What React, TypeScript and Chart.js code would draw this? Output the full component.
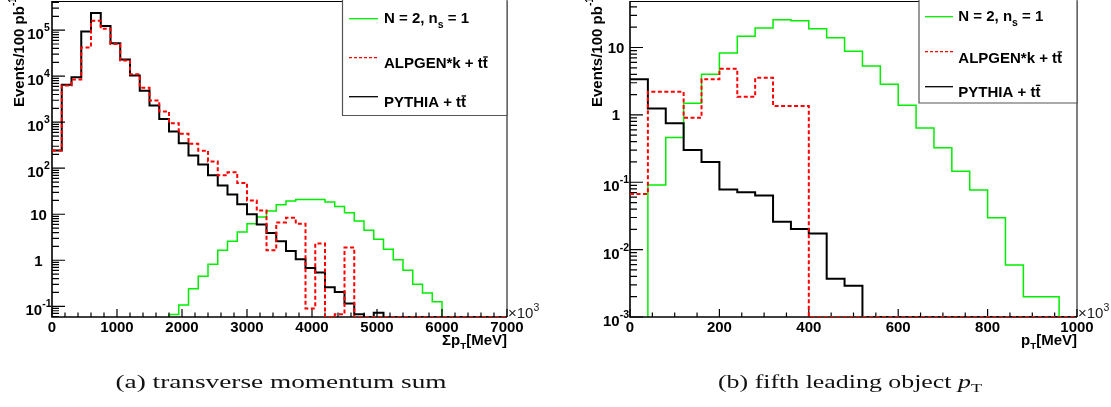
import { useEffect, useRef } from "react";
import { Chart, registerables } from "chart.js";

Chart.register(...registerables);

// ---------- Panel (a): transverse momentum sum, 150 MeV bins from 0 ----------
const SUM_BIN_WIDTH = 150;
const SUM_SIGNAL = [
  0, 0, 0, 0, 0, 0, 0, 0, 0, 0, 0, 0,
  0.066, 0.106, 0.24, 0.45, 0.82, 1.65, 2.6, 4.1, 6.2, 8.7, 11.7, 16,
  19.4, 20.8, 20.8, 20.8, 18.4, 14.8, 10.8, 7.1, 4.5, 2.85, 1.73, 1.03,
  0.61, 0.3, 0.195, 0.125, 0, 0, 0, 0, 0, 0, 0,
];
const SUM_ALPGEN = [
  243, 6300, 8500, 42000, 160000, 107000, 50000, 22000, 11000, 5600, 2950, 1700,
  950, 560, 340, 240, 140, 70, 82, 48, 20, 12, 1.65, 6.6,
  8.4, 6.2, 0.09, 2.3, 0, 0.067, 1.9, 0, 0, 0, 0, 0,
  0, 0, 0, 0, 0, 0, 0, 0, 0, 0, 0,
];
const SUM_PYTHIA = [
  243, 6500, 9500, 94000, 235000, 123000, 52000, 23000, 10300, 4800, 2300, 1180,
  630, 350, 190, 120, 70, 42, 27, 16.4, 10, 6, 3.9, 2.6,
  1.59, 1.05, 0.68, 0.54, 0.26, 0.205, 0.115, 0.067, 0, 0.072, 0, 0,
  0, 0, 0, 0, 0, 0, 0, 0, 0, 0, 0,
];
const SUM_X_TICKS = [0, 1000, 2000, 3000, 4000, 5000, 6000, 7000];
const SUM_Y_DECADES = [-1, 0, 1, 2, 3, 4, 5];

// ---------- Panel (b): fifth leading object pT, 40 MeV bins from 0 ----------
const PT5_BIN_WIDTH = 40;
const PT5_SIGNAL = [
  0, 0.091, 0.46, 1.49, 4.0, 8.3, 14.7, 19.5, 25.9, 25, 19, 13.9, 8.8,
  5.3, 2.84, 1.39, 0.64, 0.326, 0.146, 0.077, 0.0296, 0.0059, 0.002, 0.002, 0,
];
const PT5_ALPGEN = [
  0.067, 2.2, 2.2, 0.91, 3.37, 4.83, 1.86, 3.56, 1.36, 1.36, 0, 0, 0,
  0, 0, 0, 0, 0, 0, 0, 0, 0, 0, 0, 0,
];
const PT5_PYTHIA = [
  3.37, 1.24, 0.75, 0.3, 0.2, 0.078, 0.071, 0.0636, 0.026, 0.0202, 0.0173, 0.0037, 0.0029,
  0, 0, 0, 0, 0, 0, 0, 0, 0, 0, 0, 0,
];
const PT5_X_TICKS = [0, 200, 400, 600, 800, 1000];
const PT5_Y_DECADES = [-3, -2, -1, 0, 1];

// ---------- Text ----------
type Seg = { s: string; k?: "sub" | "sup" | "bar" | "it"; dy?: number; scale?: number };

const Y_TITLE: Seg[] = [{ s: "Events/100 pb" }, { s: "-1", k: "sup" }];
const SUM_X_TITLE: Seg[] = [{ s: "Σp" }, { s: "T", k: "sub", dy: 3.5, scale: 0.65 }, { s: "[MeV]" }];
const PT5_X_TITLE: Seg[] = [{ s: "p" }, { s: "T", k: "sub", dy: 3.5, scale: 0.65 }, { s: "[MeV]" }];
const EXPONENT_LABEL: Seg[] = [{ s: "×10" }, { s: "3", k: "sup", dy: -7 }];
const LEGEND_LABELS: Seg[][] = [
  [{ s: "N = 2, n" }, { s: "s", k: "sub", dy: 5.5 }, { s: " = 1" }],
  [{ s: "ALPGEN*k + t" }, { s: "t", k: "bar" }],
  [{ s: "PYTHIA + t" }, { s: "t", k: "bar" }],
];
const CAPTION_A: Seg[] = [{ s: "(a) transverse momentum sum" }];
const CAPTION_B: Seg[] = [
  { s: "(b) fifth leading object " },
  { s: "p", k: "it" },
  { s: "T", k: "sub", dy: 3.5, scale: 0.7 },
];

const SANS = '"Liberation Sans", Arial, Helvetica, sans-serif';
const SERIF = '"Liberation Serif", "DejaVu Serif", serif';

const COLORS = { signal: "#00ee00", alpgen: "#ff0000", pythia: "#000000" };

function segFont(seg: Seg, size: number, bold: boolean, family: string) {
  const small = seg.k === "sub" || seg.k === "sup";
  const sz = small ? size * (seg.scale ?? 0.7) : size;
  const style = seg.k === "it" ? "italic " : "";
  return `${style}${bold ? "bold " : ""}${sz}px ${family}`;
}

function richWidth(ctx: CanvasRenderingContext2D, segs: Seg[], size: number, bold: boolean, family: string) {
  let w = 0;
  for (const seg of segs) {
    ctx.font = segFont(seg, size, bold, family);
    w += ctx.measureText(seg.s).width;
  }
  return w;
}

type RichOpts = {
  size: number;
  bold: boolean;
  family: string;
  align: "left" | "right" | "center";
  color?: string;
  targetWidth?: number;
};

function drawRich(ctx: CanvasRenderingContext2D, segs: Seg[], x: number, y: number, o: RichOpts) {
  const w = richWidth(ctx, segs, o.size, o.bold, o.family);
  const sx = o.targetWidth ? o.targetWidth / w : 1;
  const total = w * sx;
  const start = o.align === "left" ? x : o.align === "right" ? x - total : x - total / 2;
  ctx.save();
  ctx.translate(start, y);
  ctx.scale(sx, 1);
  ctx.fillStyle = o.color ?? "#000";
  ctx.textAlign = "left";
  ctx.textBaseline = "alphabetic";
  let cx = 0;
  for (const seg of segs) {
    ctx.font = segFont(seg, o.size, o.bold, o.family);
    const dy =
      seg.dy ?? (seg.k === "sub" ? o.size * 0.3 : seg.k === "sup" ? -o.size * 0.55 : 0);
    ctx.fillText(seg.s, cx, dy);
    const sw = ctx.measureText(seg.s).width;
    if (seg.k === "bar") {
      ctx.fillRect(cx + 0.5, dy - o.size * 0.8, sw - 0.5, Math.max(1.2, o.size * 0.09));
    }
    cx += sw;
  }
  ctx.restore();
}

// ---------- Panel specification ----------
type PanelSpec = {
  binWidth: number;
  signal: number[];
  alpgen: number[];
  pythia: number[];
  xMin: number;
  xMax: number;
  xMajor: number;
  xMinor: number;
  xTicks: number[];
  yMin: number;
  yMax: number;
  yDecades: number[];
  padding: { left: number; right: number; top: number; bottom: number };
  yLabelX: number;
  yTitleX: number;
  yTitleY: number;
  xTitle: Seg[];
  legend: {
    x0: number;
    x1: number;
    y1: number;
    lineX: [number, number];
    lineY: number[];
    textX: number;
    baselines: number[];
  };
  caption: Seg[];
  captionX: number;
  captionWidth: number;
};

const PANEL_A: PanelSpec = {
  binWidth: SUM_BIN_WIDTH,
  signal: SUM_SIGNAL,
  alpgen: SUM_ALPGEN,
  pythia: SUM_PYTHIA,
  xMin: 0,
  xMax: 7000,
  xMajor: 1000,
  xMinor: 200,
  xTicks: SUM_X_TICKS,
  yMin: 0.0585,
  yMax: 4.3e5,
  yDecades: SUM_Y_DECADES,
  padding: { left: 52, right: 53, top: 1, bottom: 90 },
  yLabelX: 38.5,
  yTitleX: 24,
  yTitleY: 107,
  xTitle: SUM_X_TITLE,
  legend: {
    x0: 342.5,
    x1: 507,
    y1: 115.5,
    lineX: [349, 378],
    lineY: [18.7, 57.7, 96.7],
    textX: 384,
    baselines: [22.7, 68.3, 107.3],
  },
  caption: CAPTION_A,
  captionX: 281,
  captionWidth: 331,
};

const PANEL_B: PanelSpec = {
  binWidth: PT5_BIN_WIDTH,
  signal: PT5_SIGNAL,
  alpgen: PT5_ALPGEN,
  pythia: PT5_PYTHIA,
  xMin: 0,
  xMax: 1000,
  xMajor: 200,
  xMinor: 50,
  xTicks: PT5_X_TICKS,
  yMin: 0.001,
  yMax: 49,
  yDecades: PT5_Y_DECADES,
  padding: { left: 70, right: 34, top: 1, bottom: 90 },
  yLabelX: 56,
  yTitleX: 41.5,
  yTitleY: 107,
  xTitle: PT5_X_TITLE,
  legend: {
    x0: 359,
    x1: 517,
    y1: 103,
    lineX: [365, 393],
    lineY: [16.7, 51.7, 86.7],
    textX: 398.3,
    baselines: [20.7, 63.3, 96.7],
  },
  caption: CAPTION_B,
  captionX: 290,
  captionWidth: 264,
};

// Empty bins are drawn at `floor` (the axis minimum, or below it to hide them).
function histPoints(values: number[], width: number, floor: number) {
  const pts = values.map((v, i) => ({ x: i * width, y: v > 0 ? v : floor }));
  const last = values[values.length - 1];
  pts.push({ x: values.length * width, y: last > 0 ? last : floor });
  return pts;
}

function drawFrameAndTicks(chart: any, p: PanelSpec) {
  const { ctx, chartArea: a } = chart;
  const xs = chart.scales.x;
  const ys = chart.scales.y;
  ctx.save();
  ctx.strokeStyle = "#000";
  ctx.lineWidth = 1;
  ctx.beginPath();
  ctx.moveTo(a.left, a.top + 0.5);
  ctx.lineTo(a.right, a.top + 0.5);
  ctx.moveTo(a.right, a.top);
  ctx.lineTo(a.right, a.bottom);
  ctx.stroke();
  ctx.lineWidth = 1.6;
  ctx.beginPath();
  ctx.moveTo(a.left, a.top);
  ctx.lineTo(a.left, a.bottom);
  ctx.lineTo(a.right, a.bottom);
  ctx.stroke();
  // y ticks (log)
  ctx.lineWidth = 1.2;
  ctx.beginPath();
  const dLo = Math.floor(Math.log10(p.yMin));
  const dHi = Math.ceil(Math.log10(p.yMax));
  for (let d = dLo; d <= dHi; d++) {
    for (let m = 1; m <= 9; m++) {
      const v = m * Math.pow(10, d);
      if (v < p.yMin || v > p.yMax) continue;
      const py = ys.getPixelForValue(v);
      const len = m === 1 ? 13 : 7;
      ctx.moveTo(a.left, py);
      ctx.lineTo(a.left + len, py);
    }
  }
  // x ticks
  const nMinor = Math.round((p.xMax - p.xMin) / p.xMinor);
  for (let i = 0; i <= nMinor; i++) {
    const v = p.xMin + i * p.xMinor;
    const px = xs.getPixelForValue(v);
    const len = Math.abs(v % p.xMajor) < 1e-9 ? 8 : 4.5;
    ctx.moveTo(px, a.bottom);
    ctx.lineTo(px, a.bottom - len);
  }
  ctx.stroke();
  ctx.restore();
}

function makeConfig(p: PanelSpec): any {
  const rootAxes = {
    id: "rootAxes",
    // the signal histogram (dataset 2) is drawn first, then the axes, then the overlays
    afterDatasetDraw(chart: any, args: any) {
      if (args.index === 2) drawFrameAndTicks(chart, p);
    },
    afterDraw(chart: any) {
      const { ctx, chartArea: a } = chart;
      const xs = chart.scales.x;
      const ys = chart.scales.y;
      const bold = { size: 15, bold: true, family: SANS };
      // x tick labels
      for (const v of p.xTicks) {
        drawRich(ctx, [{ s: String(v) }], xs.getPixelForValue(v), a.bottom + 15, {
          ...bold,
          align: "center",
        });
      }
      // y tick labels
      for (const d of p.yDecades) {
        const py = ys.getPixelForValue(Math.pow(10, d));
        if (d === 0 || d === 1) {
          drawRich(ctx, [{ s: d === 0 ? "1" : "10" }], p.yLabelX, py + 5.5, { ...bold, align: "center" });
        } else {
          drawRich(ctx, [{ s: "10" }, { s: String(d), k: "sup", dy: -8 }], p.yLabelX, py + 9, {
            ...bold,
            align: "center",
          });
        }
      }
      // exponent
      drawRich(ctx, EXPONENT_LABEL, a.right + 1, a.bottom + 0.5, {
        size: 15,
        bold: false,
        family: SANS,
        align: "left",
        color: "#222",
      });
      // x title
      drawRich(ctx, p.xTitle, a.right, a.bottom + 28, { ...bold, align: "right" });
      // y title
      ctx.save();
      ctx.translate(p.yTitleX, p.yTitleY);
      ctx.rotate(-Math.PI / 2);
      drawRich(ctx, Y_TITLE, 0, 0, { ...bold, align: "left" });
      ctx.restore();
      // legend
      const L = p.legend;
      ctx.save();
      ctx.fillStyle = "#fff";
      ctx.fillRect(L.x0, 0, L.x1 - L.x0, L.y1);
      ctx.strokeStyle = "#555";
      ctx.lineWidth = 1.2;
      ctx.beginPath();
      ctx.moveTo(L.x0, 0);
      ctx.lineTo(L.x0, L.y1);
      ctx.lineTo(L.x1, L.y1);
      ctx.lineTo(L.x1, 0);
      ctx.stroke();
      const styles = [
        { c: COLORS.signal, dash: [] as number[] },
        { c: COLORS.alpgen, dash: [3, 2] },
        { c: COLORS.pythia, dash: [] as number[] },
      ];
      styles.forEach((st, i) => {
        ctx.strokeStyle = st.c;
        ctx.lineWidth = 1.3;
        ctx.setLineDash(st.dash);
        ctx.beginPath();
        ctx.moveTo(L.lineX[0], L.lineY[i]);
        ctx.lineTo(L.lineX[1], L.lineY[i]);
        ctx.stroke();
      });
      ctx.setLineDash([]);
      ctx.restore();
      LEGEND_LABELS.forEach((segs, i) => {
        drawRich(ctx, segs, L.textX, L.baselines[i], { ...bold, align: "left" });
      });
      // caption
      drawRich(ctx, p.caption, p.captionX, 388, {
        size: 18,
        bold: false,
        family: SERIF,
        align: "center",
        color: "#111",
        targetWidth: p.captionWidth,
      });
    },
  };

  const floor = p.yMin;
  const hiddenFloor = p.yMin * 0.7; // below the axis: empty signal bins stay under the frame
  return {
    type: "line",
    data: {
      datasets: [
        {
          label: "ALPGEN*k + tt̄",
          data: histPoints(p.alpgen, p.binWidth, floor),
          borderColor: COLORS.alpgen,
          borderWidth: 2,
          borderDash: [4, 2.5],
          stepped: true,
          pointRadius: 0,
          fill: false,
        },
        {
          label: "PYTHIA + tt̄",
          data: histPoints(p.pythia, p.binWidth, floor),
          borderColor: COLORS.pythia,
          borderWidth: 2,
          stepped: true,
          pointRadius: 0,
          fill: false,
        },
        {
          label: "N = 2, n_s = 1",
          data: histPoints(p.signal, p.binWidth, hiddenFloor),
          borderColor: COLORS.signal,
          borderWidth: 1.5,
          stepped: true,
          pointRadius: 0,
          fill: false,
        },
      ],
    },
    options: {
      responsive: false,
      animation: false,
      devicePixelRatio: 1,
      events: [],
      layout: { padding: p.padding },
      plugins: {
        legend: { display: false },
        tooltip: { enabled: false },
        title: { display: false },
      },
      scales: {
        x: { type: "linear", min: p.xMin, max: p.xMax, display: false },
        y: { type: "logarithmic", min: p.yMin, max: p.yMax, display: false },
      },
    },
    plugins: [rootAxes],
  };
}

function Panel({ spec, left, width }: { spec: PanelSpec; left: number; width: number }) {
  const ref = useRef<HTMLCanvasElement>(null);
  useEffect(() => {
    const chart = new Chart(ref.current as HTMLCanvasElement, makeConfig(spec));
    return () => chart.destroy();
  }, [spec]);
  return (
    <canvas
      ref={ref}
      width={width}
      height={407}
      style={{ position: "absolute", left, top: 0, width, height: 407 }}
    />
  );
}

export default function App() {
  return (
    <div
      style={{
        position: "absolute",
        left: 0,
        top: 0,
        width: 1111,
        height: 407,
        background: "#fff",
        overflow: "hidden",
      }}
    >
      <Panel spec={PANEL_A} left={0} width={560} />
      <Panel spec={PANEL_B} left={560} width={551} />
    </div>
  );
}
